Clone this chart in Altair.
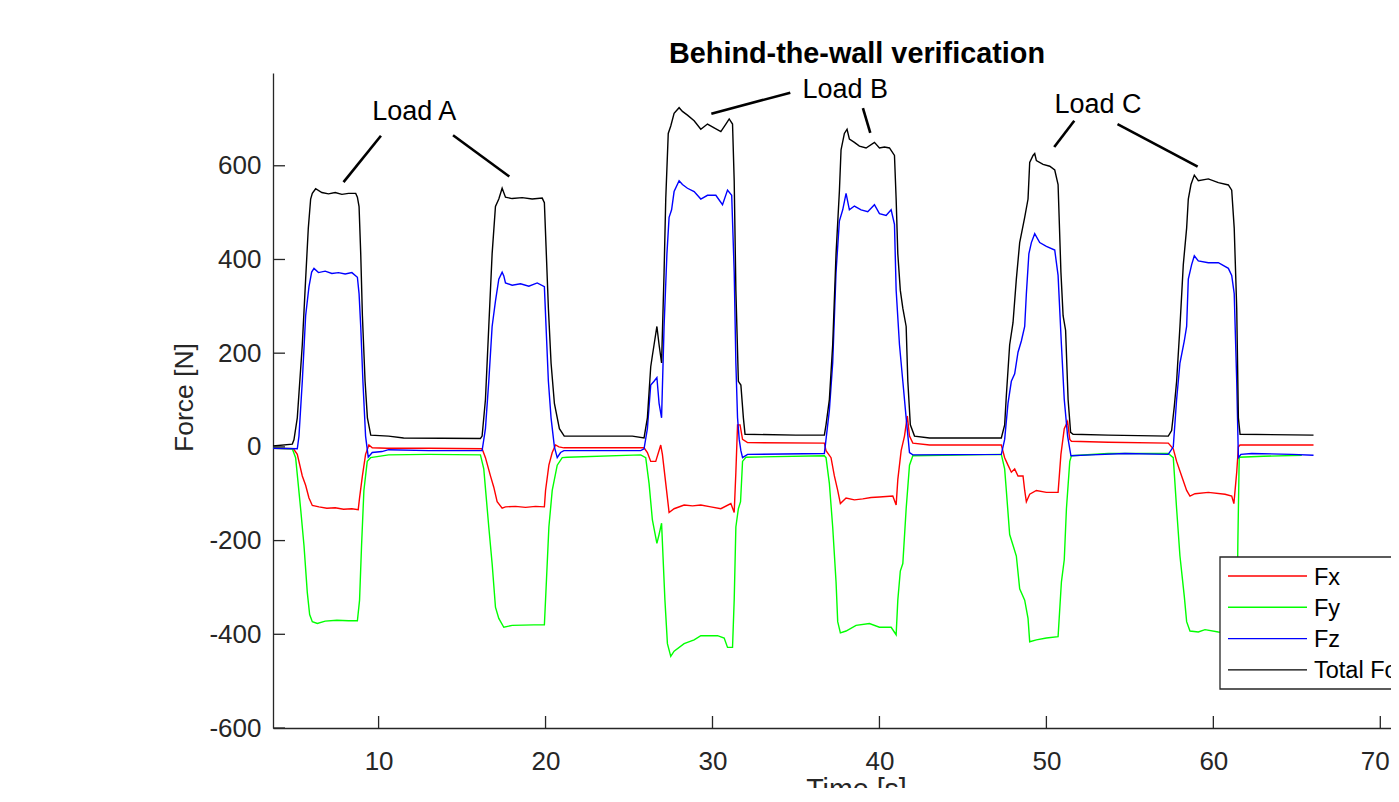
import altair as alt
import pandas as pd

# ---------------- data ----------------
t_fx = [3.68, 4.9, 5.13, 5.43, 5.63, 5.83, 6.03, 6.43, 6.9, 7.4, 7.9, 8.4, 8.78, 8.86, 9.03, 9.22, 9.42, 9.62,
        10.5, 13, 16.2, 16.4, 16.7, 16.9, 17.1, 17.4, 17.6, 18.2, 18.8, 19.4, 19.93, 20.0, 20.2, 20.4, 20.6, 20.8,
        21.1, 25.9, 26.1, 26.3, 26.6, 26.9, 27.0, 27.2, 27.4, 27.7, 28.3, 28.8, 29.3, 29.9, 30.5, 31.1, 31.3, 31.4,
        31.5, 31.65, 31.8, 32.1, 36.7, 36.8, 37.1, 37.3, 37.5, 37.66, 38.0, 38.5, 39.0, 39.5, 40.0, 40.8, 41.0,
        41.1, 41.3, 41.5, 41.67, 41.8, 42.0, 43, 47.3, 47.5, 47.7, 47.9, 48.1, 48.3, 48.6, 48.7, 48.8, 49.0, 49.4,
        50.0, 50.7, 50.87, 51.07, 51.27, 51.4, 51.5, 53.7, 57.3, 57.6, 57.8, 58.1, 58.4, 58.6, 58.9, 59.7, 60.7,
        61.1, 61.23, 61.4, 61.5, 61.6, 66.0]
fx = [-3, -4, -16, -62, -82, -109, -125, -128, -131, -130, -133, -132, -134, -109, -62, -16, 4, -2,
      -3, -3, -4, -23, -62, -86, -117, -131, -128, -127, -129, -127, -128, -93, -39, -12, 4, 0,
      -2, -2, -12, -31, -31, 4, -16, -78, -140, -132, -124, -126, -124, -128, -132, -121, -140, -54,
      47, 47, 16, 9, 8, -8, -23, -62, -93, -121, -109, -113, -111, -108, -107, -105, -124,
      -70, -8, 23, 66, 23, 8, 4, 4, -23, -39, -54, -47, -62, -62, -93, -117, -101, -93,
      -97, -97, -16, 39, 54, 16, 12, 10, 8, -4, -31, -62, -93, -105, -100, -97, -101,
      -105, -121, -54, 0, 4, 4]

t_fy = [3.68, 4.83, 5.03, 5.33, 5.53, 5.73, 5.87, 6.03, 6.33, 6.8, 7.5, 8.2, 8.73, 8.86, 8.98, 9.12, 9.32, 9.52,
        10.6, 13, 16.1, 16.3, 16.6, 16.8, 17.0, 17.2, 17.5, 18.0, 19.3, 19.93, 20.0, 20.2, 20.4, 20.7, 21.0, 21.3,
        25.7, 26.0, 26.2, 26.4, 26.67, 26.8, 26.95, 27.15, 27.3, 27.5, 27.7, 28.3, 28.9, 29.3, 30.3, 30.7, 30.9,
        31.2, 31.3, 31.4, 31.55, 31.68, 31.8, 32.0, 36.7, 36.8, 37.0, 37.2, 37.4, 37.5, 37.66, 38.0, 38.6, 39.4,
        40.0, 40.7, 41.0, 41.1, 41.25, 41.4, 41.6, 41.8, 42.0, 47.3, 47.5, 47.6, 47.8, 48.0, 48.2, 48.4, 48.7,
        48.9, 49.0, 49.4, 50.0, 50.7, 50.9, 51.07, 51.2, 51.4, 51.5, 53.7, 57.3, 57.6, 57.8, 58.0, 58.26, 58.4,
        58.6, 59.1, 59.5, 60.3, 61.0, 61.4, 61.47, 61.55, 63, 65.3]
fy = [-3, -4, -23, -132, -210, -311, -358, -373, -377, -372, -370, -371, -371, -327, -210, -93, -31, -23,
      -17, -16, -17, -47, -171, -249, -342, -366, -385, -381, -380, -380, -327, -171, -93, -39, -23, -22,
      -17, -23, -78, -156, -206, -187, -163, -327, -420, -447, -436, -420, -412, -403, -403, -408, -428,
      -428, -327, -171, -132, -117, -31, -22, -19, -23, -78, -171, -288, -373, -397, -393, -381, -377,
      -385, -385, -401, -327, -265, -249, -132, -39, -19, -16, -47, -93, -187, -210, -233, -303, -327,
      -366, -416, -412, -408, -405, -288, -241, -132, -31, -19, -14, -14, -23, -132, -233, -319, -373,
      -393, -395, -390, -395, -397, -405, -200, -22, -20, -18]

t_fz = [3.68, 5.13, 5.23, 5.43, 5.63, 5.83, 5.99, 6.13, 6.4, 6.8, 7.2, 7.6, 8.0, 8.4, 8.73, 8.83, 8.93, 9.06,
        9.22, 9.38, 9.62, 10.2, 10.6, 13, 16.2, 16.4, 16.6, 16.8, 17.0, 17.2, 17.4, 17.5, 17.6, 18.0, 18.5, 19.0,
        19.5, 19.93, 20.03, 20.17, 20.33, 20.53, 20.7, 20.9, 21.1, 25.7, 25.9, 26.1, 26.3, 26.5, 26.67, 26.8,
        26.95, 27.1, 27.27, 27.4, 27.55, 27.7, 28.0, 28.2, 28.5, 28.9, 29.3, 29.7, 30.2, 30.6, 30.9, 31.15, 31.3,
        31.4, 31.5, 31.6, 31.7, 31.8, 32.1, 36.7, 36.8, 37.0, 37.2, 37.4, 37.6, 37.8, 38.0, 38.2, 38.5, 38.9,
        39.3, 39.7, 40.0, 40.4, 40.7, 40.9, 41.0, 41.2, 41.4, 41.6, 41.8, 42.0, 47.3, 47.5, 47.7, 47.9, 48.1,
        48.3, 48.5, 48.7, 48.8, 48.95, 49.1, 49.3, 49.6, 50.0, 50.5, 50.7, 50.9, 51.07, 51.27, 51.47, 52.7, 54.7,
        57.3, 57.6, 57.8, 58.0, 58.26, 58.4, 58.5, 58.7, 58.86, 59.1, 59.7, 60.3, 60.9, 61.1, 61.25, 61.4, 61.5,
        61.65, 62.3, 64.7, 66.0]
fz = [-3, -4, 23, 140, 280, 342, 373, 381, 372, 375, 370, 372, 369, 372, 362, 327, 257, 140,
      23, -22, -12, -10, -6, -8, -8, 39, 140, 257, 311, 358, 373, 365, 350, 345, 348, 343,
      350, 342, 257, 140, 62, 0, -23, -12, -8, -8, -4, 39, 132, 140, 148, 93,
      62, 257, 412, 490, 506, 545, 568, 560, 552, 545, 529, 537, 537, 517, 548, 537, 373,
      179, 62, 16, -8, -23, -16, -14, 16, 78, 179, 373, 482, 506, 541, 506, 514, 506,
      502, 517, 498, 494, 506, 475, 335, 218, 140, 62, -12, -17, -16, 16, 93, 140, 156,
      202, 226, 257, 327, 412, 436, 455, 436, 428, 420, 366, 218, 101, 23, -19, -17, -14,
      -16, 0, 101, 179, 226, 257, 358, 389, 408, 397, 393, 393, 381, 366, 327, 140, -23,
      -16, -14, -16, -18]

t_tot = [3.68, 4.83, 4.93, 5.13, 5.43, 5.63, 5.79, 5.93, 6.03, 6.23, 6.6, 7.0, 7.4, 7.8, 8.2, 8.63, 8.73, 8.83,
         8.93, 9.03, 9.19, 9.33, 9.53, 10.6, 11.5, 16.1, 16.2, 16.4, 16.6, 16.8, 17.0, 17.2, 17.4, 17.6, 18.0,
         18.6, 19.2, 19.8, 19.93, 20.03, 20.17, 20.33, 20.53, 20.83, 21.12, 25.2, 25.9, 26.1, 26.3, 26.4, 26.5,
         26.67, 26.8, 26.95, 27.1, 27.2, 27.35, 27.5, 27.7, 28.0, 28.2, 28.5, 28.9, 29.3, 29.7, 30.1, 30.5, 30.8,
         31.0, 31.2, 31.3, 31.4, 31.55, 31.7, 31.85, 31.95, 35.0, 36.7, 36.8, 37.0, 37.2, 37.4, 37.6, 37.7, 37.9,
         38.06, 38.2, 38.5, 38.8, 39.2, 39.7, 40.0, 40.3, 40.6, 40.9, 41.0, 41.1, 41.25, 41.4, 41.6, 41.7, 41.85,
         42.1, 43.0, 47.3, 47.5, 47.6, 47.8, 48.0, 48.2, 48.4, 48.7, 48.9, 49.0, 49.2, 49.3, 49.4, 49.8, 50.2,
         50.5, 50.7, 50.87, 51.0, 51.15, 51.3, 51.45, 51.6, 53.7, 57.3, 57.5, 57.66, 57.8, 58.0, 58.2, 58.4, 58.5,
         58.66, 58.86, 59.1, 59.7, 60.3, 60.9, 61.1, 61.25, 61.4, 61.5, 61.6, 66.0]
tot = [2, 6, 15, 62, 218, 358, 467, 529, 541, 551, 543, 540, 543, 539, 541, 541, 533, 513,
       412, 280, 140, 62, 25, 23, 19, 18, 23, 101, 257, 412, 513, 529, 552, 533, 530,
       532, 529, 531, 521, 428, 296, 179, 93, 39, 23, 23, 19, 62, 171, 195, 218,
       257, 218, 179, 373, 529, 669, 685, 712, 724, 716, 708, 696, 678, 689, 681, 673, 689,
       700, 689, 568, 335, 140, 132, 62, 27, 25, 25, 47, 101, 218, 412, 545, 634, 669,
       678, 657, 650, 642, 638, 650, 638, 640, 638, 622, 529, 412, 334, 296, 257, 140, 47,
       23, 19, 19, 47, 109, 218, 265, 358, 436, 490, 529, 607, 622, 626, 611, 603, 599,
       591, 560, 373, 280, 249, 101, 31, 27, 25, 23, 35, 86, 140, 257, 389, 467, 529,
       560, 580, 568, 572, 564, 559, 548, 467, 296, 62, 27, 25]

series = ["Fx", "Fy", "Fz", "Total Force"]
colors = ["#FF0000", "#00FF00", "#0000FF", "#000000"]
series_t = [t_fx, t_fy, t_fz, t_tot]
series_v = [fx, fy, fz, tot]

x_ticks = [10, 20, 30, 40, 50, 60, 70]
y_ticks = [-600, -400, -200, 0, 200, 400, 600]

ann_labels = ["Load A", "Load B", "Load C"]
ann_label_t = [12.14, 37.95, 53.09]
ann_label_v = [698, 745, 713]
ann_t1 = [7.90, 14.46, 29.93, 39.01, 50.47, 54.26]
ann_v1 = [565, 665, 711, 723, 640, 689]
ann_t2 = [10.14, 17.83, 34.66, 39.45, 51.67, 59.06]
ann_v2 = [664, 577, 756, 670, 696, 598]

title_text = "Behind-the-wall verification"

# ---------------- layout ----------------
PAD_L, PAD_T = 265, 65
W, H = 1118, 655
SVG_H = 780
X_MIN = 3.675
X_MAX = X_MIN + W / 16.695
FONT = "Liberation Sans"
AX = "#262626"

xs = alt.Scale(domain=[X_MIN, X_MAX], nice=False, zero=False)
ys = alt.Scale(domain=[-600, 798], nice=False, zero=False)

x_axis = alt.Axis(values=x_ticks, ticks=False, tickSize=0, grid=False, domainColor=AX, domainWidth=1.3,
                  labelFont=FONT, labelFontSize=26, labelColor=AX, labelPadding=20, labelFlush=False,
                  labelOverlap=False,
                  labelAlign={"condition": {"test": "datum.value == 70", "value": "right"}, "value": "center"},
                  labelOffset={"condition": {"test": "datum.value == 70", "value": 9}, "value": 0},
                  title="Time [s]", titleFont=FONT, titleFontSize=28.6,
                  titleFontWeight="normal", titleColor=AX, titleX=583, titleY=70,
                  titleBaseline="alphabetic", titleAlign="center")
y_axis = alt.Axis(values=y_ticks, ticks=False, tickSize=0, grid=False, domainColor=AX, domainWidth=1.3,
                  labelFont=FONT, labelFontSize=26, labelColor=AX, labelPadding=12, labelFlush=False,
                  labelOverlap=False,
                  labelExpr="datum.value < 0 ? '-' + abs(datum.value) : '' + datum.value",
                  title="Force [N]", titleFont=FONT, titleFontSize=26.5, titleFontWeight="normal",
                  titleColor=AX, titleAngle=270, titleX=-81, titleY=324, titleBaseline="alphabetic",
                  titleAlign="center")


def X(field="t:Q"):
    return alt.X(field, scale=xs, axis=x_axis)


def Y(field="v:Q"):
    return alt.Y(field, scale=ys, axis=y_axis)


layers = []
for name, col, tt, vv in zip(series, colors, series_t, series_v):
    df = pd.DataFrame({"t": tt, "v": vv})
    layers.append(alt.Chart(df).mark_line(color=col, strokeWidth=1.4).encode(x=X(), y=Y()))

# inward tick marks
ytick_df = pd.DataFrame({"v": y_ticks})
layers.append(alt.Chart(ytick_df).mark_rule(color=AX, strokeWidth=1.3).encode(
    y=Y(), x=alt.value(0), x2=alt.value(12)))
xtick_df = pd.DataFrame({"t": x_ticks})
layers.append(alt.Chart(xtick_df).mark_rule(color=AX, strokeWidth=1.3).encode(
    x=X(), y=alt.value(H), y2=alt.value(H - 12)))

# annotations
ann_line_df = pd.DataFrame({"t": ann_t1, "v": ann_v1, "t2": ann_t2, "v2": ann_v2})
layers.append(alt.Chart(ann_line_df).mark_rule(color="black", strokeWidth=2.6).encode(
    x=X(), y=Y(), x2="t2:Q", y2="v2:Q"))
ann_text_df = pd.DataFrame({"t": ann_label_t, "v": ann_label_v, "label": ann_labels})
layers.append(alt.Chart(ann_text_df).mark_text(font=FONT, fontSize=27, color="black", align="center",
                                               baseline="alphabetic").encode(
    x=X(), y=Y(), text="label:N"))

# title
dummy = pd.DataFrame({"a": [0]})
layers.append(alt.Chart(dummy).mark_text(font=FONT, fontSize=28.8, fontWeight="bold", color="black",
                                         align="center", baseline="alphabetic").encode(
    x=alt.value(584), y=alt.value(-10), text=alt.value(title_text)))

# legend (box, line samples, labels)
LX, LY = 947, 484
layers.append(alt.Chart(dummy).mark_rect(fill="white", stroke=AX, strokeWidth=1.3).encode(
    x=alt.value(LX), x2=alt.value(LX + 260), y=alt.value(LY), y2=alt.value(LY + 132)))
for i, (name, col) in enumerate(zip(series, colors)):
    ry = LY + 19 + 31.3 * i
    layers.append(alt.Chart(dummy).mark_rule(color=col, strokeWidth=1.4).encode(
        x=alt.value(LX + 8), x2=alt.value(LX + 87), y=alt.value(ry)))
    layers.append(alt.Chart(dummy).mark_text(font=FONT, fontSize=23.5, color="black", align="left",
                                             baseline="alphabetic").encode(
        x=alt.value(LX + 94), y=alt.value(ry + 8.5), text=alt.value(name)))

chart = alt.layer(*layers).properties(
    width=W, height=H,
    autosize=alt.AutoSizeParams(type="none"),
    padding={"left": PAD_L, "top": PAD_T, "right": 0, "bottom": SVG_H - PAD_T - H},
).configure_view(stroke=None)

chart.save("out.html", embed_options={"renderer": "svg", "actions": False})
